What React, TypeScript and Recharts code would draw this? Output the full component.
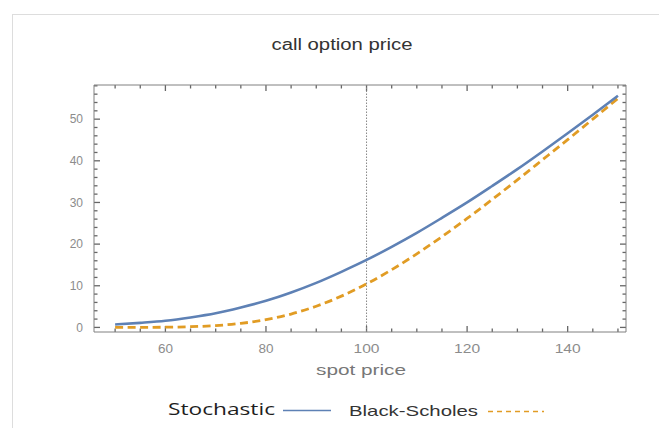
import { LineChart, Line, XAxis, YAxis, ReferenceLine } from 'recharts';

// spot prices on the x axis
const spot = [50, 55, 60, 65, 70, 75, 80, 85, 90, 95, 100, 105, 110, 115, 120, 125, 130, 135, 140, 145, 150];
// call price, stochastic model
const stochastic = [0.7, 1.1, 1.6, 2.4, 3.4, 4.8, 6.4, 8.4, 10.7, 13.35, 16.2, 19.35, 22.7, 26.3, 30.0, 33.95, 38.0, 42.25, 46.6, 51.05, 55.6];
// call price, Black-Scholes
const blackScholes = [0.0, 0.01, 0.05, 0.17, 0.44, 0.97, 1.86, 3.21, 5.09, 7.51, 10.45, 13.86, 17.66, 21.79, 26.16, 30.73, 35.44, 40.25, 45.08, 50.0, 54.97];

const xTicks = [50, 55, 60, 65, 70, 75, 80, 85, 90, 95, 100, 105, 110, 115, 120, 125, 130, 135, 140, 145, 150];
const xLabels = [60, 80, 100, 120, 140];
const yTicks = [0, 2, 4, 6, 8, 10, 12, 14, 16, 18, 20, 22, 24, 26, 28, 30, 32, 34, 36, 38, 40, 42, 44, 46, 48, 50, 52, 54, 56, 58];
const yLabels = [0, 10, 20, 30, 40, 50];

const data = spot.map((s, i) => ({ spot: s, stochastic: stochastic[i], blackScholes: blackScholes[i] }));

const X_DOMAIN: [number, number] = [45.8, 151.6];
const Y_DOMAIN: [number, number] = [-1.1, 58.2];
const PLOT_W = 532;
const PLOT_H = 247;
// data units per pixel, used only for the inward tick marks
const UX = (X_DOMAIN[1] - X_DOMAIN[0]) / PLOT_W;
const UY = (Y_DOMAIN[1] - Y_DOMAIN[0]) / PLOT_H;

const BLUE = '#5e81b5';
const ORANGE = '#e19c24';
const FRAME = '#808080';
const TICK = '#666666';
const LABEL = '#8c8c8c';
const FONT = '"Liberation Sans", Arial, sans-serif';

function XTickLabel(props: any) {
  const v = props.payload.value as number;
  if (!xLabels.includes(v)) return <g />;
  const s = String(v);
  return (
    <text x={props.x} y={props.y + 21} textAnchor="middle" fontSize={12} fill={LABEL} fontFamily={FONT}
      textLength={s.length === 3 ? 26 : 15} lengthAdjust="spacingAndGlyphs">
      {s}
    </text>
  );
}

function YTickLabel(props: any) {
  const v = props.payload.value as number;
  if (!yLabels.includes(v)) return <g />;
  return (
    <text x={props.x - 11} y={props.y} dy="0.36em" textAnchor="end" fontSize={12} fill={LABEL} fontFamily={FONT}>
      {v}
    </text>
  );
}

export default function App() {
  return (
    <div style={{ position: 'absolute', left: 0, top: 0, width: 659, height: 428, background: '#fff', overflow: 'hidden' }}>
      <svg width={659} height={428} style={{ position: 'absolute', left: 0, top: 0 }}>
        <rect x={12.5} y={14.5} width={700} height={500} fill="none" stroke="#dddddd" />
        <text x={342} y={50} textAnchor="middle" fontSize={16} fill="#333" fontFamily={FONT}
          textLength={141} lengthAdjust="spacingAndGlyphs">
          call option price
        </text>
        <text x={361} y={375} textAnchor="middle" fontSize={14} fill="#777" fontFamily={FONT}
          textLength={90} lengthAdjust="spacingAndGlyphs">
          spot price
        </text>
        <text x={168} y={415} fontSize={17} fill="#1e1e1e" fontFamily='"Open Sans", "Noto Sans", sans-serif'
          textLength={107} lengthAdjust="spacingAndGlyphs">
          Stochastic
        </text>
        <line x1={283} x2={331} y1={410.5} y2={410.5} stroke={BLUE} strokeWidth={1.5} />
        <text x={349} y={416} fontSize={15} fill="#333" fontFamily={FONT}
          textLength={129} lengthAdjust="spacingAndGlyphs">
          Black-Scholes
        </text>
        <line x1={488} x2={544} y1={411.5} y2={411.5} stroke={ORANGE} strokeWidth={1.5} strokeDasharray="5 4" />
      </svg>
      <div style={{ position: 'absolute', left: 0, top: 0 }}>
        <LineChart width={659} height={428} data={data} margin={{ top: 84, right: 32, bottom: 66, left: 54 }}>
          <XAxis xAxisId="bottom" dataKey="spot" type="number" domain={X_DOMAIN} allowDataOverflow
            ticks={xTicks} interval={0} tickSize={0} tickMargin={0} tickLine={false} height={30}
            axisLine={{ stroke: FRAME }} tick={XTickLabel} />
          <XAxis xAxisId="top" orientation="top" dataKey="spot" type="number" domain={X_DOMAIN} allowDataOverflow
            tick={false} tickLine={false} height={1} axisLine={{ stroke: FRAME }} />
          <YAxis yAxisId="left" type="number" domain={Y_DOMAIN} allowDataOverflow
            ticks={yTicks} interval={0} tickSize={0} tickMargin={0} tickLine={false} width={40}
            axisLine={{ stroke: FRAME }} tick={YTickLabel} />
          <YAxis yAxisId="right" orientation="right" type="number" domain={Y_DOMAIN} allowDataOverflow
            tick={false} tickLine={false} width={1} axisLine={{ stroke: FRAME }} />
          {xTicks.map((v) => (
            <ReferenceLine key={`b${v}`} xAxisId="bottom" yAxisId="left" stroke={TICK} strokeWidth={1.3}
              ifOverflow="visible"
              segment={[{ x: v, y: Y_DOMAIN[0] }, { x: v, y: Y_DOMAIN[0] + (xLabels.includes(v) ? 6 : 3.5) * UY }]} />
          ))}
          {xTicks.map((v) => (
            <ReferenceLine key={`t${v}`} xAxisId="bottom" yAxisId="left" stroke={TICK} strokeWidth={1.3}
              ifOverflow="visible"
              segment={[{ x: v, y: Y_DOMAIN[1] }, { x: v, y: Y_DOMAIN[1] - (xLabels.includes(v) ? 6 : 3.5) * UY }]} />
          ))}
          {yTicks.map((v) => (
            <ReferenceLine key={`l${v}`} xAxisId="bottom" yAxisId="left" stroke={TICK} strokeWidth={1.3}
              ifOverflow="visible"
              segment={[{ x: X_DOMAIN[0], y: v }, { x: X_DOMAIN[0] + (yLabels.includes(v) ? 6 : 3.5) * UX, y: v }]} />
          ))}
          {yTicks.map((v) => (
            <ReferenceLine key={`r${v}`} xAxisId="bottom" yAxisId="left" stroke={TICK} strokeWidth={1.3}
              ifOverflow="visible"
              segment={[{ x: X_DOMAIN[1], y: v }, { x: X_DOMAIN[1] - (yLabels.includes(v) ? 6 : 3.5) * UX, y: v }]} />
          ))}
          <ReferenceLine xAxisId="bottom" yAxisId="left" x={100} stroke="#888" strokeDasharray="1.5 1.5" />
          <Line xAxisId="bottom" yAxisId="left" type="monotone" dataKey="blackScholes" stroke={ORANGE}
            strokeWidth={2.8} strokeDasharray="8 4.5" dot={false} isAnimationActive={false} />
          <Line xAxisId="bottom" yAxisId="left" type="monotone" dataKey="stochastic" stroke={BLUE}
            strokeWidth={2.6} dot={false} isAnimationActive={false} />
        </LineChart>
      </div>
    </div>
  );
}
